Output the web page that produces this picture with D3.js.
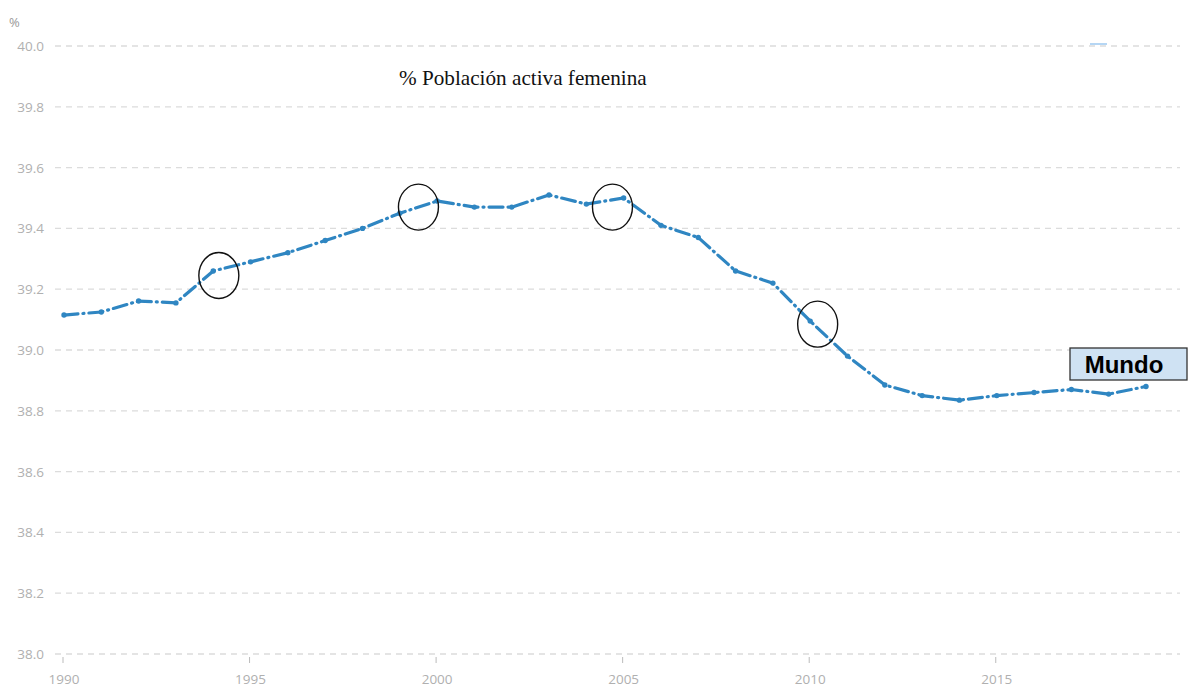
<!DOCTYPE html>
<html><head><meta charset="utf-8">
<script src="https://cdn.jsdelivr.net/npm/d3@7"></script>
<style>body{margin:0;background:#fff}svg{display:block}</style>
</head><body><svg id="c" width="1192" height="696"></svg>
<script>
const years = [1990,1991,1992,1993,1994,1995,1996,1997,1998,1999,2000,2001,2002,2003,2004,2005,2006,2007,2008,2009,2010,2011,2012,2013,2014,2015,2016,2017,2018,2019];
const mundo = [39.115,39.125,39.161,39.155,39.26,39.29,39.32,39.36,39.40,39.45,39.49,39.47,39.47,39.51,39.48,39.50,39.41,39.37,39.26,39.22,39.095,38.98,38.885,38.85,38.835,38.85,38.86,38.87,38.855,38.88];
const yTicks = [38.0,38.2,38.4,38.6,38.8,39.0,39.2,39.4,39.6,39.8,40.0];
const xTicks = [1990,1995,2000,2005,2010,2015];
const circled = [1994.15, 1999.5, 2004.7, 2010.2];
const circledVals = [39.245, 39.47, 39.47, 39.085];
const title = "% Población activa femenina";
const seriesName = "Mundo";

const svg = d3.select("#c");
const x = d3.scaleLinear().domain([1990,2019]).range([64,1146]);
const y = d3.scaleLinear().domain([38,40]).range([654,46]);

// grid
svg.append("g").selectAll("line").data(yTicks).join("line")
  .attr("x1",55).attr("x2",1180).attr("y1",d=>y(d)).attr("y2",d=>y(d))
  .attr("stroke","#dcdcdc").attr("stroke-width",1.3).attr("stroke-dasharray","6,5");

// y labels
svg.append("g").selectAll("text").data(yTicks).join("text")
  .attr("x",44).attr("y",d=>y(d)+5).attr("text-anchor","end")
  .attr("font-family","Open Sans, sans-serif").attr("font-size",13.5).attr("fill","#b0b0b0")
  .text(d=>d.toFixed(1));
svg.append("text").attr("x",9).attr("y",27).attr("font-family","Open Sans, sans-serif")
  .attr("font-size",13).attr("fill","#999").text("%");

// x axis
const xa = svg.append("g");
xa.selectAll("line").data(xTicks).join("line")
  .attr("x1",d=>x(d)-1).attr("x2",d=>x(d)-1).attr("y1",657).attr("y2",663)
  .attr("stroke","#bbb").attr("stroke-width",1);
xa.selectAll("text").data(xTicks).join("text")
  .attr("x",d=>x(d)).attr("y",684).attr("text-anchor","middle")
  .attr("font-family","Open Sans, sans-serif").attr("font-size",13.5).attr("fill","#b0b0b0")
  .text(d=>d);

// small stray mark
svg.append("line").attr("x1",1090).attr("x2",1107).attr("y1",44).attr("y2",44)
  .attr("stroke","#9cc9f0").attr("stroke-width",1.5);

// title
svg.append("text").attr("x",399).attr("y",85).attr("font-family","Liberation Serif, serif")
  .attr("font-size",21.2).attr("fill","#111").text(title);

// line
const data = years.map((yr,i)=>({yr,v:mundo[i]}));
const line = d3.line().x(d=>x(d.yr)).y(d=>y(d.v));
svg.append("path").datum(data).attr("d",line).attr("fill","none")
  .attr("stroke","#2f86c2").attr("stroke-width",3.2).attr("stroke-linecap","round")
  .attr("stroke-dasharray","14,5,1,5");
svg.append("g").selectAll("circle").data(data).join("circle")
  .attr("cx",d=>x(d.yr)).attr("cy",d=>y(d.v)).attr("r",2.7).attr("fill","#2f86c2");

// annotation ellipses
svg.append("g").selectAll("ellipse").data(circled).join("ellipse")
  .attr("cx",(d)=>x(d)).attr("cy",(d,i)=>y(circledVals[i]))
  .attr("rx",20).attr("ry",23).attr("fill","none").attr("stroke","#111").attr("stroke-width",1.4);

// legend box
svg.append("rect").attr("x",1070).attr("y",348).attr("width",117).attr("height",32)
  .attr("fill","#cfe2f3").attr("stroke","#333").attr("stroke-width",1.3);
svg.append("text").attr("x",1124).attr("y",373).attr("text-anchor","middle")
  .attr("font-family","Liberation Sans, Arial, sans-serif").attr("font-weight","bold")
  .attr("font-size",24).attr("fill","#000").text(seriesName);
</script></body></html>
